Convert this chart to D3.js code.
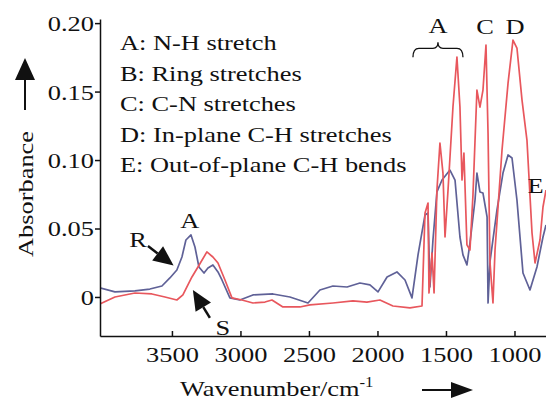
<!DOCTYPE html>
<html>
<head>
<meta charset="utf-8">
<script src="https://d3js.org/d3.v7.min.js"></script>
<style>
  body { margin: 0; background: #fff; }
  svg text { font-family: "Liberation Serif", "Times New Roman", serif; fill: #111; }
  .axis path, .axis line { stroke: #111; stroke-width: 1.5; fill: none; }
</style>
</head>
<body>
<svg id="chart" width="546" height="400"></svg>
<script>
// spectrum R (blue-grey)
var wavenumberR = [4026, 3916, 3770, 3661, 3573, 3515, 3464, 3427, 3398, 3361, 3332, 3303, 3266, 3237, 3201, 3164, 3135, 3077, 3004,
  2909, 2763, 2639, 2507, 2420, 2325, 2222, 2128, 2055, 1996, 1930, 1858, 1799, 1748, 1704, 1653, 1631, 1617, 1595, 1566, 1529,
  1500, 1471, 1434, 1398, 1376, 1347, 1325, 1288, 1274, 1252, 1230, 1200, 1193, 1179, 1128, 1084, 1047, 1018, 982, 938, 887, 836, 792, 770];
var absorbanceR = [0.0066, 0.0037, 0.0044, 0.0058, 0.0080, 0.0139, 0.0197, 0.0292, 0.0416, 0.0453, 0.0365, 0.0219, 0.0175, 0.0212, 0.0234, 0.0183, 0.0124, -0.0007, -0.0022,
  0.0015, 0.0022, 0.0000, -0.0044, 0.0051, 0.0080, 0.0073, 0.0102, 0.0088, 0.0037, 0.0146, 0.0183, 0.0124, -0.0007, 0.0307, 0.0599, 0.0613, 0.0073, 0.0416, 0.0767, 0.0854,
  0.0891, 0.0927, 0.0854, 0.0438, 0.0307, 0.0234, 0.0394, 0.0708, 0.0905, 0.0767, 0.0759, 0.0584, -0.0044, 0.0256, 0.0635, 0.0905, 0.1037, 0.1015, 0.0708, 0.0175, 0.0051, 0.0219, 0.0438, 0.0526];

// spectrum S (red)
var wavenumberS = [4026, 3916, 3770, 3646, 3551, 3464, 3420, 3354, 3310, 3245, 3201, 3164, 3113, 3062, 2989, 2909, 2821, 2770, 2690, 2566,
  2493, 2325, 2179, 2077, 1982, 1887, 1763, 1675, 1653, 1631, 1624, 1602, 1587, 1566, 1544, 1522, 1507, 1485, 1449, 1420, 1398, 1383,
  1369, 1347, 1325, 1303, 1274, 1252, 1230, 1208, 1193, 1179, 1157, 1142, 1091, 1047, 1011, 982, 945, 909, 872, 850, 814, 792, 770];
var absorbanceS = [-0.0051, 0.0000, 0.0029, 0.0022, 0.0000, -0.0022, 0.0015, 0.0146, 0.0219, 0.0329, 0.0292, 0.0248, 0.0124, -0.0007, -0.0022, -0.0044, -0.0037, -0.0022, -0.0073, -0.0073,
  -0.0058, -0.0044, -0.0029, -0.0037, -0.0022, -0.0066, -0.0080, -0.0066, 0.0613, 0.0686, 0.0029, 0.0321, 0.0029, 0.0781, 0.1124, 0.0905, 0.0438, 0.0781, 0.1387, 0.1752, 0.1387, 0.0854,
  0.1051, 0.0380, 0.0343, 0.0745, 0.1511, 0.1387, 0.1511, 0.1840, 0.1197, 0.0256, -0.0044, 0.0343, 0.1073, 0.1562, 0.1876, 0.1818, 0.1438, 0.1146, 0.0467, 0.0248, 0.0416, 0.0657, 0.0781];

var xTicks = [3500, 3000, 2500, 2000, 1500, 1000];
var yTicks = [0, 0.05, 0.10, 0.15, 0.20];
var legendLines = ["A: N-H stretch", "B: Ring stretches", "C: C-N stretches", "D: In-plane C-H stretches", "E: Out-of-plane C-H bends"];

var stretch = 1.2;
var svg = d3.select("#chart");

var x = d3.scaleLinear().domain([4025, 770]).range([100, 546]);
var y = d3.scaleLinear().domain([-0.0285, 0.203]).range([336, 19]);

function label(px, py, str, anchor, size) {
  return svg.append("text")
    .attr("transform", "translate(" + px + "," + py + ") scale(" + stretch + ",1)")
    .attr("text-anchor", anchor || "start")
    .attr("font-size", size || 22)
    .text(str);
}

// spectra, clipped to the plot area
svg.append("clipPath").attr("id", "plot")
  .append("rect").attr("x", 100).attr("y", 0).attr("width", 446).attr("height", 336);

var line = d3.line().x(function(d) { return x(d[0]); }).y(function(d) { return y(d[1]); });

svg.append("path")
  .datum(d3.zip(wavenumberR, absorbanceR))
  .attr("clip-path", "url(#plot)")
  .attr("fill", "none").attr("stroke", "#5f6197").attr("stroke-width", 1.7)
  .attr("stroke-linejoin", "round")
  .attr("d", line);

svg.append("path")
  .datum(d3.zip(wavenumberS, absorbanceS))
  .attr("clip-path", "url(#plot)")
  .attr("fill", "none").attr("stroke", "#e8575d").attr("stroke-width", 1.7)
  .attr("stroke-linejoin", "round")
  .attr("d", line);

// axes
var yAxis = svg.append("g").attr("class", "axis")
  .attr("transform", "translate(100,0)")
  .call(d3.axisLeft(y).tickValues(yTicks).tickSizeInner(5).tickSizeOuter(0)
    .tickFormat(function(d) { return d === 0 ? "0" : d3.format(".2f")(d); }));
yAxis.selectAll("text")
  .attr("font-size", 22)
  .attr("x", -6 / stretch).attr("dy", "0.34em")
  .attr("transform", "scale(" + stretch + ",1)");

var xAxis = svg.append("g").attr("class", "axis")
  .attr("transform", "translate(0,336)")
  .call(d3.axisBottom(x).tickValues(xTicks).tickSizeInner(-5).tickSizeOuter(0)
    .tickFormat(d3.format("d")));
xAxis.selectAll("text")
  .attr("font-size", 22)
  .attr("y", 26).attr("dy", 0)
  .attr("transform", "scale(" + stretch + ",1)");

// legend
legendLines.forEach(function(t, i) {
  label(120, 50 + i * 30.5, t, "start", 22);
});

// axis titles
var xt = svg.append("text")
  .attr("transform", "translate(180,396) scale(" + stretch + ",1)")
  .attr("font-size", 22);
xt.append("tspan").text("Wavenumber/cm");
xt.append("tspan").attr("font-size", 14).attr("dy", -9).text("-1");

svg.append("text")
  .attr("transform", "translate(33,194) rotate(-90) scale(" + stretch + ",1)")
  .attr("text-anchor", "middle").attr("font-size", 22)
  .text("Absorbance");

// direction arrows next to the titles
function arrow(x1, y1, x2, y2, headLen, headWidth, lw) {
  var dx = x2 - x1, dy = y2 - y1, len = Math.sqrt(dx * dx + dy * dy);
  var ux = dx / len, uy = dy / len;
  var bx = x2 - ux * headLen, by = y2 - uy * headLen;
  svg.append("line").attr("x1", x1).attr("y1", y1).attr("x2", bx).attr("y2", by)
    .attr("stroke", "#111").attr("stroke-width", lw);
  svg.append("path")
    .attr("d", "M" + x2 + "," + y2 +
      "L" + (bx - uy * headWidth / 2) + "," + (by + ux * headWidth / 2) +
      "L" + (bx + uy * headWidth / 2) + "," + (by - ux * headWidth / 2) + "Z")
    .attr("fill", "#111");
}
arrow(25, 110, 25, 58, 22, 20, 2);
arrow(422, 390, 473, 390, 22, 16, 2);

// peak annotations, placed in data units
label(x(3369), y(0.0504), "A", "middle", 22);
label(x(3748), y(0.0365), "R", "middle", 22);
arrow(x(3675), y(0.0372), x(3488), y(0.0230), 20, 18, 2.5);
label(x(3128), y(-0.0277), "S", "middle", 22);
arrow(x(3223), y(-0.0153), x(3347), y(0.0051), 20, 18, 2.5);

label(x(1558), y(0.1927), "A", "middle", 22);
label(x(1215), y(0.192), "C", "middle", 22);
label(x(996), y(0.192), "D", "middle", 22);
label(x(905), y(0.076), "E", "start", 22);

// brace over the A bands
var b0 = x(1741), b1 = x(1376), bm = (b0 + b1) / 2, bt = y(0.186), bb = y(0.175);
svg.append("path")
  .attr("d", "M" + b0 + "," + bb + " Q" + b0 + "," + (bt + 6) + " " + (b0 + 6) + "," + (bt + 6) +
    " L" + (bm - 5) + "," + (bt + 6) + " Q" + bm + "," + (bt + 6) + " " + bm + "," + bt +
    " Q" + bm + "," + (bt + 6) + " " + (bm + 5) + "," + (bt + 6) +
    " L" + (b1 - 6) + "," + (bt + 6) + " Q" + b1 + "," + (bt + 6) + " " + b1 + "," + bb)
  .attr("fill", "none").attr("stroke", "#111").attr("stroke-width", 1.3);
</script>
</body>
</html>
